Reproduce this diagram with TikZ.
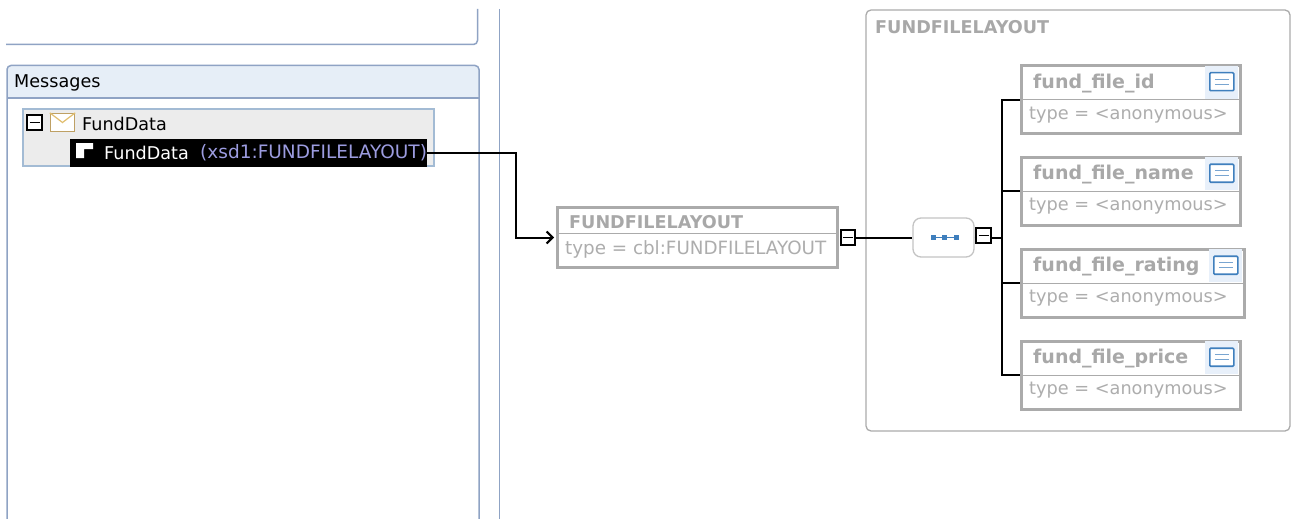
\documentclass[tikz,border=0pt]{standalone}
\usepackage{fontspec}
\setmainfont{DejaVu Sans}
\usetikzlibrary{arrows.meta,calc}
\definecolor{panel}{HTML}{8FA3C4}
\definecolor{headfill}{HTML}{E6EEF7}
\definecolor{treeline}{HTML}{A3BBD4}
\definecolor{treefill}{HTML}{ECECEC}
\definecolor{elem}{HTML}{ABABAB}
\definecolor{txt}{HTML}{A8A8A8}
\definecolor{subtxt}{HTML}{ADADAD}
\definecolor{lav}{HTML}{9C9CE0}
\definecolor{iconblue}{HTML}{3F7FBD}
\definecolor{iconbg}{HTML}{E8F0FA}
\definecolor{envdark}{HTML}{BEA064}
\definecolor{envlight}{HTML}{E1BE6E}
\tikzset{
  elembox/.style={draw=elem,line width=3pt,fill=white,inner sep=0pt},
  collapse/.style={draw=black,line width=1.8pt,fill=white,minimum size=14.5pt,inner sep=0pt},
  lbl/.style={anchor=west,inner sep=0pt,font=\fontsize{17.6}{20}\selectfont},
  boldlbl/.style={lbl,font=\fontsize{17.6}{20}\selectfont\bfseries,text=txt},
  typelbl/.style={lbl,font=\fontsize{17.7}{20}\selectfont,text=subtxt},
  wire/.style={draw=black,line width=2pt},
  divider/.style={draw=elem,line width=1pt},
  noteicon/.style={draw=iconblue,line width=1.6pt,fill=white,rounded corners=1pt,minimum width=24pt,minimum height=18pt,inner sep=0pt},
  notebg/.style={fill=iconbg,minimum width=33pt,minimum height=33pt,inner sep=0pt},
  paneline/.style={draw=panel,line width=1.5pt}
}
\begin{document}
\begin{tikzpicture}[x=1pt,y=-1pt]
\useasboundingbox (0,0) rectangle (1291,519);
\fill[white] (0,0) rectangle (1291,519);
% upper panel and divider
\draw[paneline,rounded corners=4pt] (477.5,9) -- (477.5,44.5) -- (6,44.5);
\draw[paneline] (499.5,9) -- (499.5,519);
% messages panel
\fill[headfill,rounded corners=4pt] (7,65.5) -- (479,65.5) -- (479,98) -- (7,98) -- cycle;
\draw[paneline,rounded corners=4pt] (7,519) -- (7,65.5) -- (479,65.5) -- (479,519);
\draw[paneline] (7,98) -- (479,98);
\node[lbl,text=black] (msgtitle) at (14,83) {Messages};
% tree
\node[draw=treeline,line width=1.3pt,fill=treefill,minimum width=411pt,minimum height=57pt,inner sep=0pt] (tree) at (228.5,137.5) {};
\node[collapse] (treeminus) at (34.5,122.5) {};
\draw[black,line width=1.8pt] (29.5,122.5) -- (39.5,122.5);
\node[draw=envdark,line width=1.4pt,fill=white,minimum width=24pt,minimum height=18pt,inner sep=0pt] (env) at (62.5,122.5) {};
\draw[envlight,line width=1.2pt] (env.north west) -- (env.center) -- (env.north east);
\node[lbl,text=black] (msgname) at (82,123.5) {FundData};
\node[fill=black,minimum width=357pt,minimum height=28pt,inner sep=0pt] (part) at (248.5,152.5) {};
\fill[white] (76,143) -- (93,143) -- (93,149) -- (84,149) -- (84,158) -- (76,158) -- cycle;
\node[lbl,text=white] (partname) at (104,153) {FundData};
\node[lbl,text=lav,font=\fontsize{18.5}{20}\selectfont] (parttype) at (200,153) {(xsd1:FUNDFILELAYOUT)};
% root element
\node[elembox,minimum width=280pt,minimum height=60pt] (root) at (697.5,237.5) {};
\draw[divider] (root.west |- 0,233) -- (root.east |- 0,233);
\node[boldlbl] (rootname) at (569,222.5) {FUNDFILELAYOUT};
\node[typelbl,font=\fontsize{18.3}{20}\selectfont] (roottype) at (565,249) {type = cbl:FUNDFILELAYOUT};
\node[collapse] (rootminus) at (848,237.5) {};
\draw[black,line width=1.8pt] (843,237.5) -- (853,237.5);
% group
\node[draw=elem,line width=1.3pt,rounded corners=5pt,minimum width=424pt,minimum height=421pt,inner sep=0pt] (group) at (1078,220.5) {};
\node[boldlbl] (grouptitle) at (875,27.5) {FUNDFILELAYOUT};
% compositor
\node[draw=elem!70,line width=1.3pt,fill=white,rounded corners=8pt,minimum width=61pt,minimum height=39pt,inner sep=0pt] (seq) at (943.5,237.5) {};
\draw[iconblue,line width=.8pt] (933,237.5) -- (956,237.5);
\foreach \xx in {933,944.5,956} \fill[iconblue] (\xx-2.5,235) rectangle (\xx+2.5,240);
\node[collapse] (seqminus) at (983.5,235.5) {};
\draw[black,line width=1.8pt] (978.5,235.5) -- (988.5,235.5);
% elements
\foreach \nm/\cy/\bw/\cx/\ttl in {a/99.5/219/1131/fund\_file\_id,b/191/219/1131/fund\_file\_name,c/283/223/1133/fund\_file\_rating,d/375/219/1131/fund\_file\_price}{
  \node[elembox,minimum width=\bw pt,minimum height=68pt] (\nm) at (\cx,\cy) {};
  \draw[divider] (\nm.west) -- (\nm.east);
  \node[boldlbl,font=\fontsize{19}{22}\selectfont\bfseries] (\nm name) at (1033,\cy-16) {\ttl};
  \node[typelbl] (\nm type) at (1029,\cy+15.5) {type = <anonymous>};
  \node[notebg,anchor=north east] (\nm bg) at ($(\nm.north east)+(-3.5,1.5)$) {};
  \node[noteicon] (\nm icon) at ($(\nm bg.center)+(0,-0.5)$) {};
  \draw[iconblue!70,line width=1pt] ($(\nm icon.center)+(-7,-2.5)$) -- ++(14,0);
  \draw[iconblue!70,line width=1pt] ($(\nm icon.center)+(-7,2.5)$) -- ++(14,0);
}
% connectors
\draw[wire,-{Straight Barb[length=6pt,width=12pt]},shorten >=2pt] (part.east) -- ++(89,0) |- (root.west);
\draw[wire] (rootminus.east) -- (seq.west);
\draw[wire] (seq.east) -- (seqminus.west |- seq.east);
\draw[wire] (seqminus.east |- seq.east) -- ++(10,0) coordinate (trunk);
\foreach \nm in {a,b,c,d} \draw[wire] (trunk) |- (\nm.west);
\end{tikzpicture}
\end{document}
